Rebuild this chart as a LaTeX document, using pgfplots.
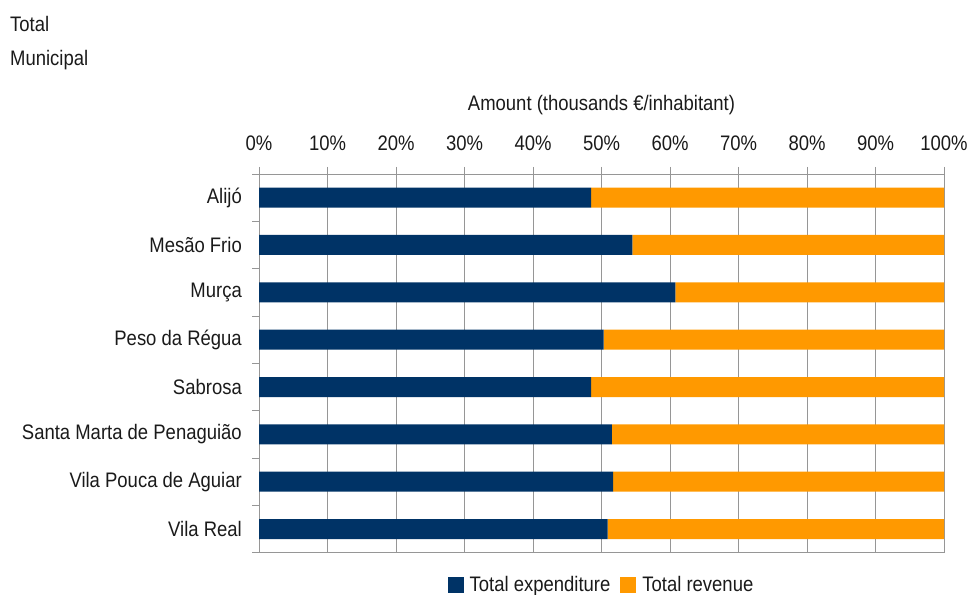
\documentclass[border=0pt]{standalone}
\usepackage{fontspec}
\setmainfont{Liberation Sans}[FakeStretch=0.88]
\usepackage{pgfplots}
\pgfplotsset{compat=1.18}
\definecolor{expc}{RGB}{0,51,102}
\definecolor{revc}{RGB}{255,153,0}
\definecolor{gridc}{RGB}{150,150,150}
\definecolor{txt}{RGB}{26,26,26}
\begin{document}
\fontsize{21bp}{25bp}\selectfont
\begin{tikzpicture}[x=1bp,y=1bp]
\path[use as bounding box] (0,0) rectangle (969,595);
\node[anchor=base west, inner sep=0, text=txt] at (10,563) {Total};
\node[anchor=base west, inner sep=0, text=txt] at (10,529) {Municipal};
\begin{axis}[
  at={(259bp,42.3bp)}, anchor=south west,
  scale only axis, width=685bp, height=378.7bp,
  xbar stacked, bar width=20bp,
  xmin=0, xmax=100, ymin=-0.5, ymax=7.5,
  xtick={0,10,...,100},
  xticklabel={\pgfmathprintnumber{\tick}\%},
  /pgf/number format/assume math mode=true,
  xticklabel pos=upper, xtick pos=upper,
  ytick={-0.5,0.5,...,7.5},
  y tick label as interval,
  yticklabels={Vila Real,Vila Pouca de Aguiar,Santa Marta de Penaguião,Sabrosa,Peso da Régua,Murça,Mesão Frio,Alijó},
  ytick pos=left,
  tick align=outside, major tick length=7bp,
  tick style={draw=gridc, line width=0.8bp},
  axis line style={draw=gridc, line width=0.8bp},
  xmajorgrids, grid style={draw=gridc, line width=0.8bp},
  tick label style={text=txt},
  xticklabel style={anchor=base, yshift=16bp},
  yticklabel style={anchor=east, xshift=-3bp},
  xlabel={Amount (thousands €/inhabitant)},
  xlabel style={text=txt, anchor=base, at={(axis description cs:0.5,1)}, yshift=63bp},
  legend style={at={(0.5,0)}, anchor=center, yshift=-32.8bp, draw=none, fill=none, text=txt,
    legend columns=2,
    /tikz/every odd column/.append style={column sep=4bp},
    /tikz/every even column/.append style={column sep=8bp}},
  legend image code/.code={\fill[#1,draw=none] (0bp,-8bp) rectangle (16bp,8bp);},
]
\addplot[fill=expc, draw=none] coordinates {(50.9,0) (51.7,1) (51.5,2) (48.5,3) (50.3,4) (60.8,5) (54.5,6) (48.5,7)};
\addplot[fill=revc, draw=none] coordinates {(49.1,0) (48.3,1) (48.5,2) (51.5,3) (49.7,4) (39.2,5) (45.5,6) (51.5,7)};
\legend{Total expenditure, Total revenue}
\end{axis}
\end{tikzpicture}
\end{document}
